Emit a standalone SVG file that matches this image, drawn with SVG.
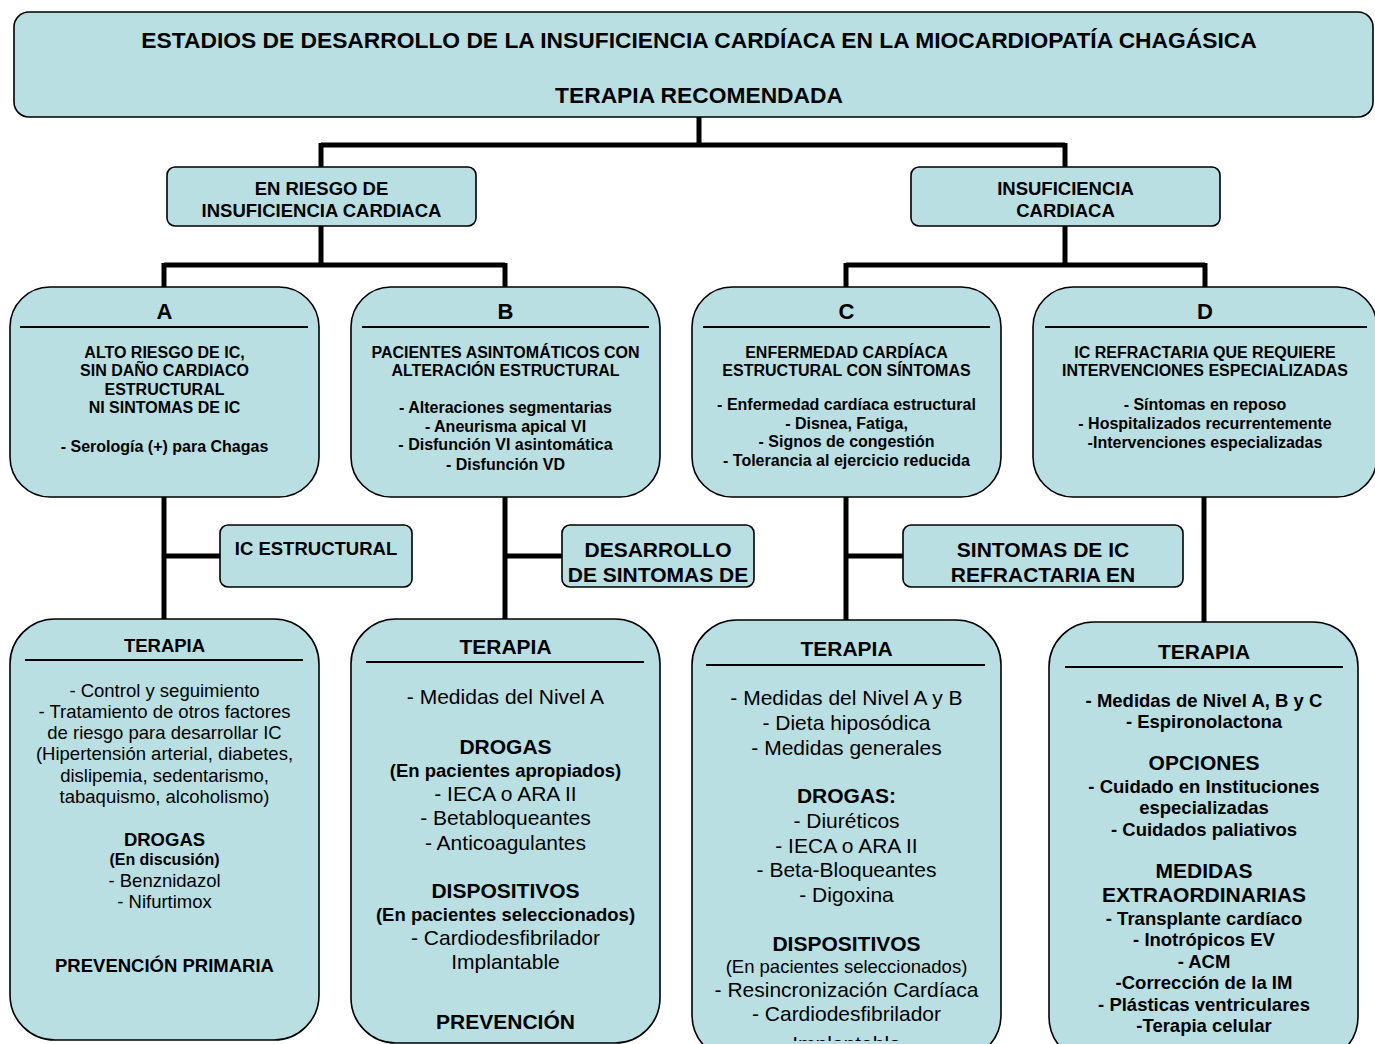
<svg xmlns="http://www.w3.org/2000/svg" width="1375" height="1044" viewBox="0 0 1375 1044">
<defs>
<style>
.box{fill:#b9dfe3;stroke:#000;stroke-width:1.6}
.conn{stroke:#000;stroke-width:5;fill:none}
.rule{stroke:#000;stroke-width:2}
text{font-family:"Liberation Sans",Arial,sans-serif;text-anchor:middle;fill:#000}
.b{font-weight:bold}
.f16{font-size:16px}
.f185{font-size:18.5px}
.f21{font-size:21px}
.f22{font-size:22px}
.ft{font-size:22.8px}
</style>
<clipPath id="clipC"><rect x="692" y="620" width="309" height="421"/></clipPath>
</defs>
<rect width="1375" height="1044" fill="#fff"/>

<g id="connectors">
<path class="conn" d="M699 117V145M321 145H1065M321 143V167M1065 143V167"/>
<path class="conn" d="M321 226V265M164 265H505M164 263V287M505 263V287"/>
<path class="conn" d="M1065 226V265M846 265H1205M846 263V287M1205 263V287"/>
<path class="conn" d="M164 497V619M164 556H220"/>
<path class="conn" d="M505 497V619M505 556H562"/>
<path class="conn" d="M846 497V620M846 556H903"/>
<path class="conn" d="M1204 497V622"/>
</g>

<g id="title">
<rect class="box" x="14" y="12" width="1359" height="105" rx="15"/>
<text class="b ft" x="699" y="48">ESTADIOS DE DESARROLLO DE LA INSUFICIENCIA CARDÍACA EN LA MIOCARDIOPATÍA CHAGÁSICA</text>
<text class="b ft" x="699" y="103">TERAPIA RECOMENDADA</text>
</g>

<g id="en-riesgo">
<rect class="box" x="167" y="167" width="309" height="59" rx="8"/>
<text class="b f185" x="321.5" y="194.7">EN RIESGO DE</text>
<text class="b f185" x="321.5" y="216.7">INSUFICIENCIA CARDIACA</text>
</g>

<g id="insuficiencia">
<rect class="box" x="911" y="167" width="309" height="59" rx="8"/>
<text class="b f185" x="1065.5" y="194.7">INSUFICIENCIA</text>
<text class="b f185" x="1065.5" y="216.7">CARDIACA</text>
</g>

<g id="estadio-a">
<rect class="box" x="10" y="287" width="309" height="210" rx="40"/>
<text class="b f22" x="164.5" y="319">A</text>
<line class="rule" x1="20" y1="327" x2="308" y2="327"/>
<text class="b f16" x="164.5" y="357.8">ALTO RIESGO DE IC,</text>
<text class="b f16" x="164.5" y="375.8">SIN DAÑO CARDIACO</text>
<text class="b f16" x="164.5" y="394.8">ESTRUCTURAL</text>
<text class="b f16" x="164.5" y="412.8">NI SINTOMAS DE IC</text>
<text class="b f16" x="164.5" y="451.8">- Serología (+) para Chagas</text>
</g>

<g id="estadio-b">
<rect class="box" x="351" y="287" width="309" height="210" rx="40"/>
<text class="b f22" x="505.5" y="319">B</text>
<line class="rule" x1="362" y1="327" x2="649" y2="327"/>
<text class="b f16" x="505.5" y="357.8">PACIENTES ASINTOMÁTICOS CON</text>
<text class="b f16" x="505.5" y="375.8">ALTERACIÓN ESTRUCTURAL</text>
<text class="b f16" x="505.5" y="412.8">- Alteraciones segmentarias</text>
<text class="b f16" x="505.5" y="431.8">- Aneurisma apical VI</text>
<text class="b f16" x="505.5" y="449.8">- Disfunción VI asintomática</text>
<text class="b f16" x="505.5" y="469.8">- Disfunción VD</text>
</g>

<g id="estadio-c">
<rect class="box" x="692" y="287" width="309" height="210" rx="40"/>
<text class="b f22" x="846.5" y="319">C</text>
<line class="rule" x1="703" y1="327" x2="990" y2="327"/>
<text class="b f16" x="846.5" y="357.8">ENFERMEDAD CARDÍACA</text>
<text class="b f16" x="846.5" y="375.8">ESTRUCTURAL CON SÍNTOMAS</text>
<text class="b f16" x="846.5" y="409.8">- Enfermedad cardíaca estructural</text>
<text class="b f16" x="846.5" y="428.8">- Disnea, Fatiga,</text>
<text class="b f16" x="846.5" y="446.8">- Signos de congestión</text>
<text class="b f16" x="846.5" y="465.8">- Tolerancia al ejercicio reducida</text>
</g>

<g id="estadio-d">
<rect class="box" x="1033" y="287" width="344" height="210" rx="40"/>
<text class="b f22" x="1205" y="319">D</text>
<line class="rule" x1="1045" y1="327" x2="1367" y2="327"/>
<text class="b f16" x="1205" y="357.8">IC REFRACTARIA QUE REQUIERE</text>
<text class="b f16" x="1205" y="375.8">INTERVENCIONES ESPECIALIZADAS</text>
<text class="b f16" x="1205" y="409.8">- Síntomas en reposo</text>
<text class="b f16" x="1205" y="428.8">- Hospitalizados recurrentemente</text>
<text class="b f16" x="1205" y="447.8">-Intervenciones especializadas</text>
</g>

<g id="ic-estructural">
<rect class="box" x="220" y="525" width="192" height="62" rx="8"/>
<text class="b f185" x="316" y="555">IC ESTRUCTURAL</text>
</g>

<g id="desarrollo-sintomas">
<rect class="box" x="562" y="525" width="192" height="62" rx="8"/>
<text class="b f21" x="658" y="556.5">DESARROLLO</text>
<text class="b f21" x="658" y="581.5">DE SINTOMAS DE</text>
</g>

<g id="sintomas-refractaria">
<rect class="box" x="903" y="525" width="280" height="62" rx="8"/>
<text class="b f21" x="1043" y="556.5">SINTOMAS DE IC</text>
<text class="b f21" x="1043" y="581.5">REFRACTARIA EN</text>
</g>

<g id="terapia-a">
<rect class="box" x="10" y="619" width="309" height="421" rx="45"/>
<text class="b f185" x="164.5" y="651.7">TERAPIA</text>
<line class="rule" x1="25" y1="660" x2="303" y2="660"/>
<text class="f185" x="164.5" y="696.7">- Control y seguimiento</text>
<text class="f185" x="164.5" y="717.7">- Tratamiento de otros factores</text>
<text class="f185" x="164.5" y="738.7">de riesgo para desarrollar IC</text>
<text class="f185" x="164.5" y="759.7">(Hipertensión arterial, diabetes,</text>
<text class="f185" x="164.5" y="781.7">dislipemia, sedentarismo,</text>
<text class="f185" x="164.5" y="802.7">tabaquismo, alcoholismo)</text>
<text class="b f185" x="164.5" y="845.7">DROGAS</text>
<text class="b f16" x="164.5" y="864.8">(En discusión)</text>
<text class="f185" x="164.5" y="886.7">- Benznidazol</text>
<text class="f185" x="164.5" y="907.7">- Nifurtimox</text>
<text class="b f185" x="164.5" y="971.7">PREVENCIÓN PRIMARIA</text>
</g>

<g id="terapia-b">
<rect class="box" x="351" y="619" width="309" height="424" rx="45"/>
<text class="b f21" x="505.5" y="653.5">TERAPIA</text>
<line class="rule" x1="366" y1="662" x2="644" y2="662"/>
<text class="f21" x="505.5" y="703.5">- Medidas del Nivel A</text>
<text class="b f21" x="505.5" y="753.5">DROGAS</text>
<text class="b f185" x="505.5" y="776.7">(En pacientes apropiados)</text>
<text class="f21" x="505.5" y="800.5">- IECA o ARA II</text>
<text class="f21" x="505.5" y="824.5">- Betabloqueantes</text>
<text class="f21" x="505.5" y="849.5">- Anticoagulantes</text>
<text class="b f21" x="505.5" y="897.5">DISPOSITIVOS</text>
<text class="b f185" x="505.5" y="920.7">(En pacientes seleccionados)</text>
<text class="f21" x="505.5" y="944.5">- Cardiodesfibrilador</text>
<text class="f21" x="505.5" y="968.5">Implantable</text>
<text class="b f21" x="505.5" y="1028.5">PREVENCIÓN</text>
</g>

<g id="terapia-c">
<rect class="box" x="692" y="620" width="309" height="440" rx="45"/>
<text class="b f21" x="846.5" y="655.5">TERAPIA</text>
<line class="rule" x1="706" y1="665" x2="985" y2="665"/>
<text class="f21" x="846.5" y="704.5">- Medidas del Nivel A y B</text>
<text class="f21" x="846.5" y="729.5">- Dieta hiposódica</text>
<text class="f21" x="846.5" y="754.5">- Medidas generales</text>
<text class="b f21" x="846.5" y="802.5">DROGAS:</text>
<text class="f21" x="846.5" y="827.5">- Diuréticos</text>
<text class="f21" x="846.5" y="852.5">- IECA o ARA II</text>
<text class="f21" x="846.5" y="876.5">- Beta-Bloqueantes</text>
<text class="f21" x="846.5" y="901.5">- Digoxina</text>
<text class="b f21" x="846.5" y="950.5">DISPOSITIVOS</text>
<text class="f185" x="846.5" y="972.7">(En pacientes seleccionados)</text>
<text class="f21" x="846.5" y="996.5">- Resincronización Cardíaca</text>
<text class="f21" x="846.5" y="1020.5">- Cardiodesfibrilador</text>
<text class="f21" x="846.5" y="1051" clip-path="url(#clipC)">Implantable</text>
</g>

<g id="terapia-d">
<rect class="box" x="1049" y="622" width="309" height="440" rx="45"/>
<text class="b f21" x="1204" y="658.5">TERAPIA</text>
<line class="rule" x1="1065" y1="667" x2="1343" y2="667"/>
<text class="b f185" x="1204" y="706.7">- Medidas de Nivel A, B y C</text>
<text class="b f185" x="1204" y="727.7">- Espironolactona</text>
<text class="b f21" x="1204" y="769.5">OPCIONES</text>
<text class="b f185" x="1204" y="792.7">- Cuidado en Instituciones</text>
<text class="b f185" x="1204" y="813.7">especializadas</text>
<text class="b f185" x="1204" y="835.7">- Cuidados paliativos</text>
<text class="b f21" x="1204" y="877.5">MEDIDAS</text>
<text class="b f21" x="1204" y="901.5">EXTRAORDINARIAS</text>
<text class="b f185" x="1204" y="924.7">- Transplante cardíaco</text>
<text class="b f185" x="1204" y="945.7">- Inotrópicos EV</text>
<text class="b f185" x="1204" y="967.7">- ACM</text>
<text class="b f185" x="1204" y="988.7">-Corrección de la IM</text>
<text class="b f185" x="1204" y="1010.7">- Plásticas ventriculares</text>
<text class="b f185" x="1204" y="1031.7">-Terapia celular</text>
</g>
</svg>
